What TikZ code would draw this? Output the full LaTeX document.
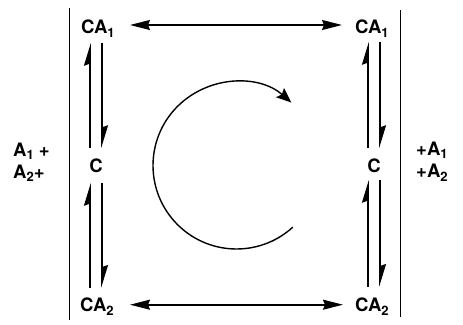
\documentclass[tikz,border=0pt]{standalone}
\usepackage{fontspec}
\setmainfont{TeX Gyre Heros}
\usetikzlibrary{arrows.meta,calc}
\newcommand{\sbs}[1]{\raisebox{-3.5pt}{\fontsize{13}{13}\selectfont #1}}
\begin{document}
\begin{tikzpicture}[x=1pt,y=1pt,
  lbl/.style={inner sep=0pt, font=\fontsize{18.5}{20}\selectfont\bfseries},
  side/.style={line width=1pt},
  harp/.style={line width=1.6pt, -{Stealth[harpoon,length=20pt,width=12pt,inset=2pt]}},
  dbl/.style={line width=1.6pt, {Stealth[length=20pt,width=10pt,inset=2pt]}-{Stealth[length=20pt,width=10pt,inset=2pt]}},
  cyc/.style={line width=1.4pt, -{Stealth[length=15pt,width=12pt,inset=2.5pt]}}]
\useasboundingbox (0,0) rectangle (463,324);
% side lines
\coordinate (LT) at (69,316);
\coordinate (LB) at (69,4);
\coordinate (RT) at (400,314);
\coordinate (RB) at (400,7);
\draw[side] (LT) -- (LB);
\draw[side] (RT) -- (RB);
% nodes
\node[lbl, anchor=base west] (CA1L) at (81,290) {CA\sbs{1}};
\node[lbl, anchor=base west] (CA2L) at (80,12.3) {CA\sbs{2}};
\node[lbl, anchor=base west] (CA1R) at (355,290) {CA\sbs{1}};
\node[lbl, anchor=base west] (CA2R) at (355,12.3) {CA\sbs{2}};
\node[lbl] (CL) at (96,158) {C};
\node[lbl] (CR) at (374,158) {C};
\node[lbl, anchor=base west] (A1L) at (13,167.5) {A\sbs{1} +};
\node[lbl, anchor=base west] (A2L) at (13,145.5) {A\sbs{2}+};
\node[lbl, anchor=base west] (A1R) at (416,168.5) {+A\sbs{1}};
\node[lbl, anchor=base west] (A2R) at (416,146) {+A\sbs{2}};
% vertical harpoons, left
\draw[harp] ($(CL.center)+(-6,18)$) -- ($(CL.center |- CA1L.base)+(-6,-9)$);
\draw[harp] ($(CL.center |- CA1L.base)+(6,-9)$) -- ($(CL.center)+(6,18)$);
\draw[harp] ($(CL.center |- CA2L.base)+(-6,24)$) -- ($(CL.center)+(-6,-17)$);
\draw[harp] ($(CL.center)+(6,-17)$) -- ($(CL.center |- CA2L.base)+(6,24)$);
% vertical harpoons, right
\draw[harp] ($(CR.center)+(-6,18)$) -- ($(CR.center |- CA1R.base)+(-6,-8)$);
\draw[harp] ($(CR.center |- CA1R.base)+(6,-8)$) -- ($(CR.center)+(6,18)$);
\draw[harp] ($(CR.center |- CA2R.base)+(-6,25)$) -- ($(CR.center)+(-6,-14)$);
\draw[harp] ($(CR.center)+(6,-14)$) -- ($(CR.center |- CA2R.base)+(6,25)$);
% horizontal double arrows
\draw[dbl] ($(CA1L.base west)+(49,9)$) -- ($(CA1R.base west)+(-13,9)$);
\draw[dbl] ($(CA2L.base west)+(50,7)$) -- ($(CA2R.base west)+(-12,7)$);
% cycle arrow
\coordinate (cen) at (236.5,158.5);
\draw[cyc] (cen) ++(-47.6:83.5) arc[start angle=-47.6, end angle=-311.1, radius=83.5];
\end{tikzpicture}
\end{document}
